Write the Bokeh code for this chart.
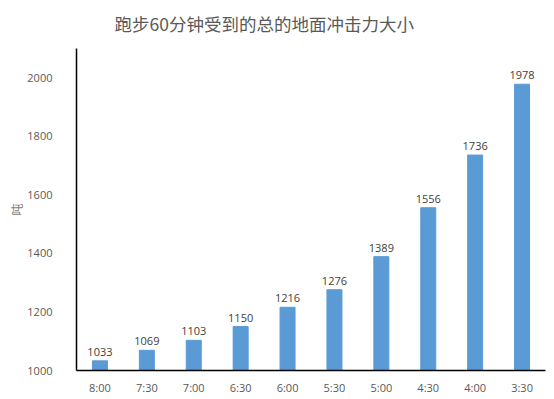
from bokeh.plotting import figure
from bokeh.models import ColumnDataSource, FactorRange, Range1d, LabelSet, Title
from bokeh.core.properties import value
from bokeh.embed import file_html
from bokeh.resources import INLINE

categories = ["8:00", "7:30", "7:00", "6:30", "6:00", "5:30", "5:00", "4:30", "4:00", "3:30"]
values = [1033, 1069, 1103, 1150, 1216, 1276, 1389, 1556, 1736, 1978]
y_ticks = [1000, 1200, 1400, 1600, 1800, 2000]
title_text = "跑步60分钟受到的总的地面冲击力大小"
y_label = "吨"

src = ColumnDataSource(dict(cat=categories, val=values, lab=[str(v) for v in values]))

p = figure(frame_width=469, frame_height=322, x_range=FactorRange(*categories, range_padding=0.0),
           y_range=Range1d(1000, 2100), output_backend="svg", toolbar_location=None,
           min_border_left=76, min_border_right=2, min_border_top=48, min_border_bottom=20)
p.title = None
spacer = Title(text=" ", text_font_size="6px", standoff=0)
p.add_layout(spacer, "above")
t = Title(text=title_text, text_font="Noto Sans CJK SC", text_font_size="17.5px",
          text_font_style="normal", text_color="#595959", align="left", offset=38)
p.add_layout(t, "above")

p.vbar(x="cat", top="val", bottom=1000, width=0.32, color="#5B9BD5", source=src)

labels = LabelSet(x="cat", y="val", text="lab", source=src, y_offset=5, text_align="center",
                  text_baseline="bottom", text_font=value("Open Sans"), text_font_size="11px",
                  text_color="#404040")
p.add_layout(labels)

p.outline_line_color = None
p.xgrid.grid_line_color = None
p.ygrid.grid_line_color = None

p.yaxis.ticker = y_ticks
p.yaxis.axis_label = y_label
p.yaxis.axis_label_text_font = "Noto Sans CJK SC"
p.yaxis.axis_label_text_font_size = "12px"
p.yaxis.axis_label_text_font_style = "normal"
p.yaxis.axis_label_text_color = "#7f7f7f"
p.yaxis.axis_label_standoff = -1
for ax in (p.xaxis, p.yaxis):
    ax.axis_line_color = "#000000"
    ax.axis_line_width = 1.5
    ax.major_tick_line_color = None
    ax.minor_tick_line_color = None
    ax.major_label_text_font = "Open Sans"
    ax.major_label_text_font_size = "11px"
    ax.major_label_text_color = "#595959"
p.yaxis.major_label_standoff = 18
p.xaxis.major_label_standoff = 3

open("out.html", "w").write(file_html(p, INLINE))
